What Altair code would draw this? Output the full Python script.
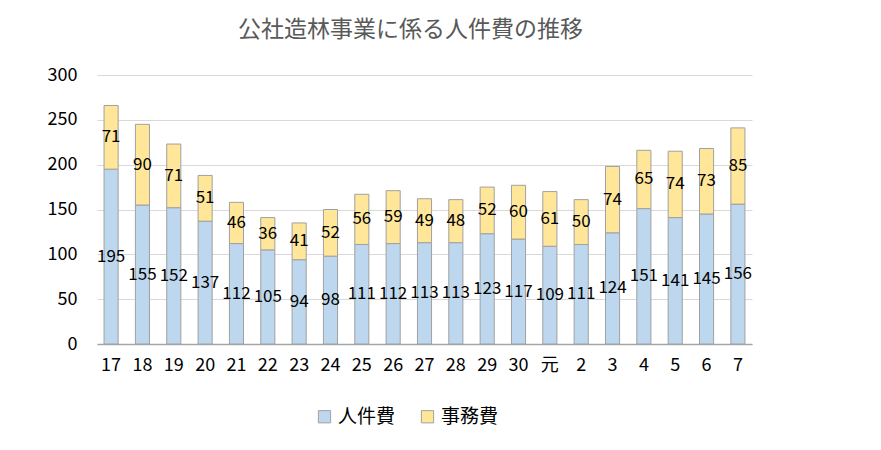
import altair as alt
import pandas as pd

categories = ["17","18","19","20","21","22","23","24","25","26","27","28","29","30","元","2","3","4","5","6","7"]
jinkenhi = [195,155,152,137,112,105,94,98,111,112,113,113,123,117,109,111,124,151,141,145,156]
jimuhi = [71,90,71,51,46,36,41,52,56,59,49,48,52,60,61,50,74,65,74,73,85]
series = ["人件費", "事務費"]
colors = ["#BDD7EE", "#FFE699"]

rows = []
for i, c in enumerate(categories):
    rows.append({"cat": c, "series": series[0], "value": jinkenhi[i], "ord": 0})
    rows.append({"cat": c, "series": series[1], "value": jimuhi[i], "ord": 1})
df = pd.DataFrame(rows)

FONT = "Noto Sans CJK JP"

base = alt.Chart(df).transform_stack(
    stack="value", groupby=["cat"], as_=["y0", "y1"], sort=[alt.SortField("ord")]
).transform_calculate(mid="(datum.y0 + datum.y1) / 2")

x = alt.X("cat:N", sort=categories, title=None,
          scale=alt.Scale(paddingInner=0.55, paddingOuter=0.225),
          axis=alt.Axis(labelAngle=0, labelFontSize=18, labelColor="#000000", labelPadding=12,
                        ticks=False, domainColor="#A6A6A6", domainWidth=1.5, labelFont=FONT))

bars = base.mark_bar(stroke="#A0A0A0", strokeWidth=1).encode(
    x=x,
    y=alt.Y("y0:Q", title=None, scale=alt.Scale(domain=[0, 300]),
            axis=alt.Axis(values=[0,50,100,150,200,250,300], labelFontSize=18, labelColor="#000000",
                          gridColor="#D9D9D9", domain=False, ticks=False, labelPadding=20, labelFont=FONT)),
    y2="y1:Q",
    color=alt.Color("series:N", sort=series, scale=alt.Scale(domain=series, range=colors),
                    legend=alt.Legend(title=None, orient="none", legendX=218, legendY=332,
                                      direction="horizontal", symbolType="square", symbolSize=150,
                                      symbolStrokeColor="#A0A0A0", symbolStrokeWidth=1,
                                      labelFontSize=19, labelFont=FONT, labelColor="#000000",
                                      columnPadding=22, symbolOpacity=1)),
    order=alt.Order("ord:Q"),
)

labels = base.mark_text(fontSize=17, color="#000000", font=FONT).encode(
    x=alt.X("cat:N", sort=categories),
    y=alt.Y("mid:Q"),
    text=alt.Text("value:Q"),
)

chart = alt.layer(bars, labels).properties(
    width=655, height=269,
    title=alt.Title("公社造林事業に係る人件費の推移", fontSize=23, color="#595959", font=FONT,
                    fontWeight="normal", offset=24, anchor="middle", dx=-14),
    autosize=alt.AutoSizeParams(type="none"),
    padding={"left": 89, "top": 67, "right": 121, "bottom": 90},
).configure_view(stroke=None)

chart.save("out.html", embed_options={"renderer": "svg", "actions": False})
